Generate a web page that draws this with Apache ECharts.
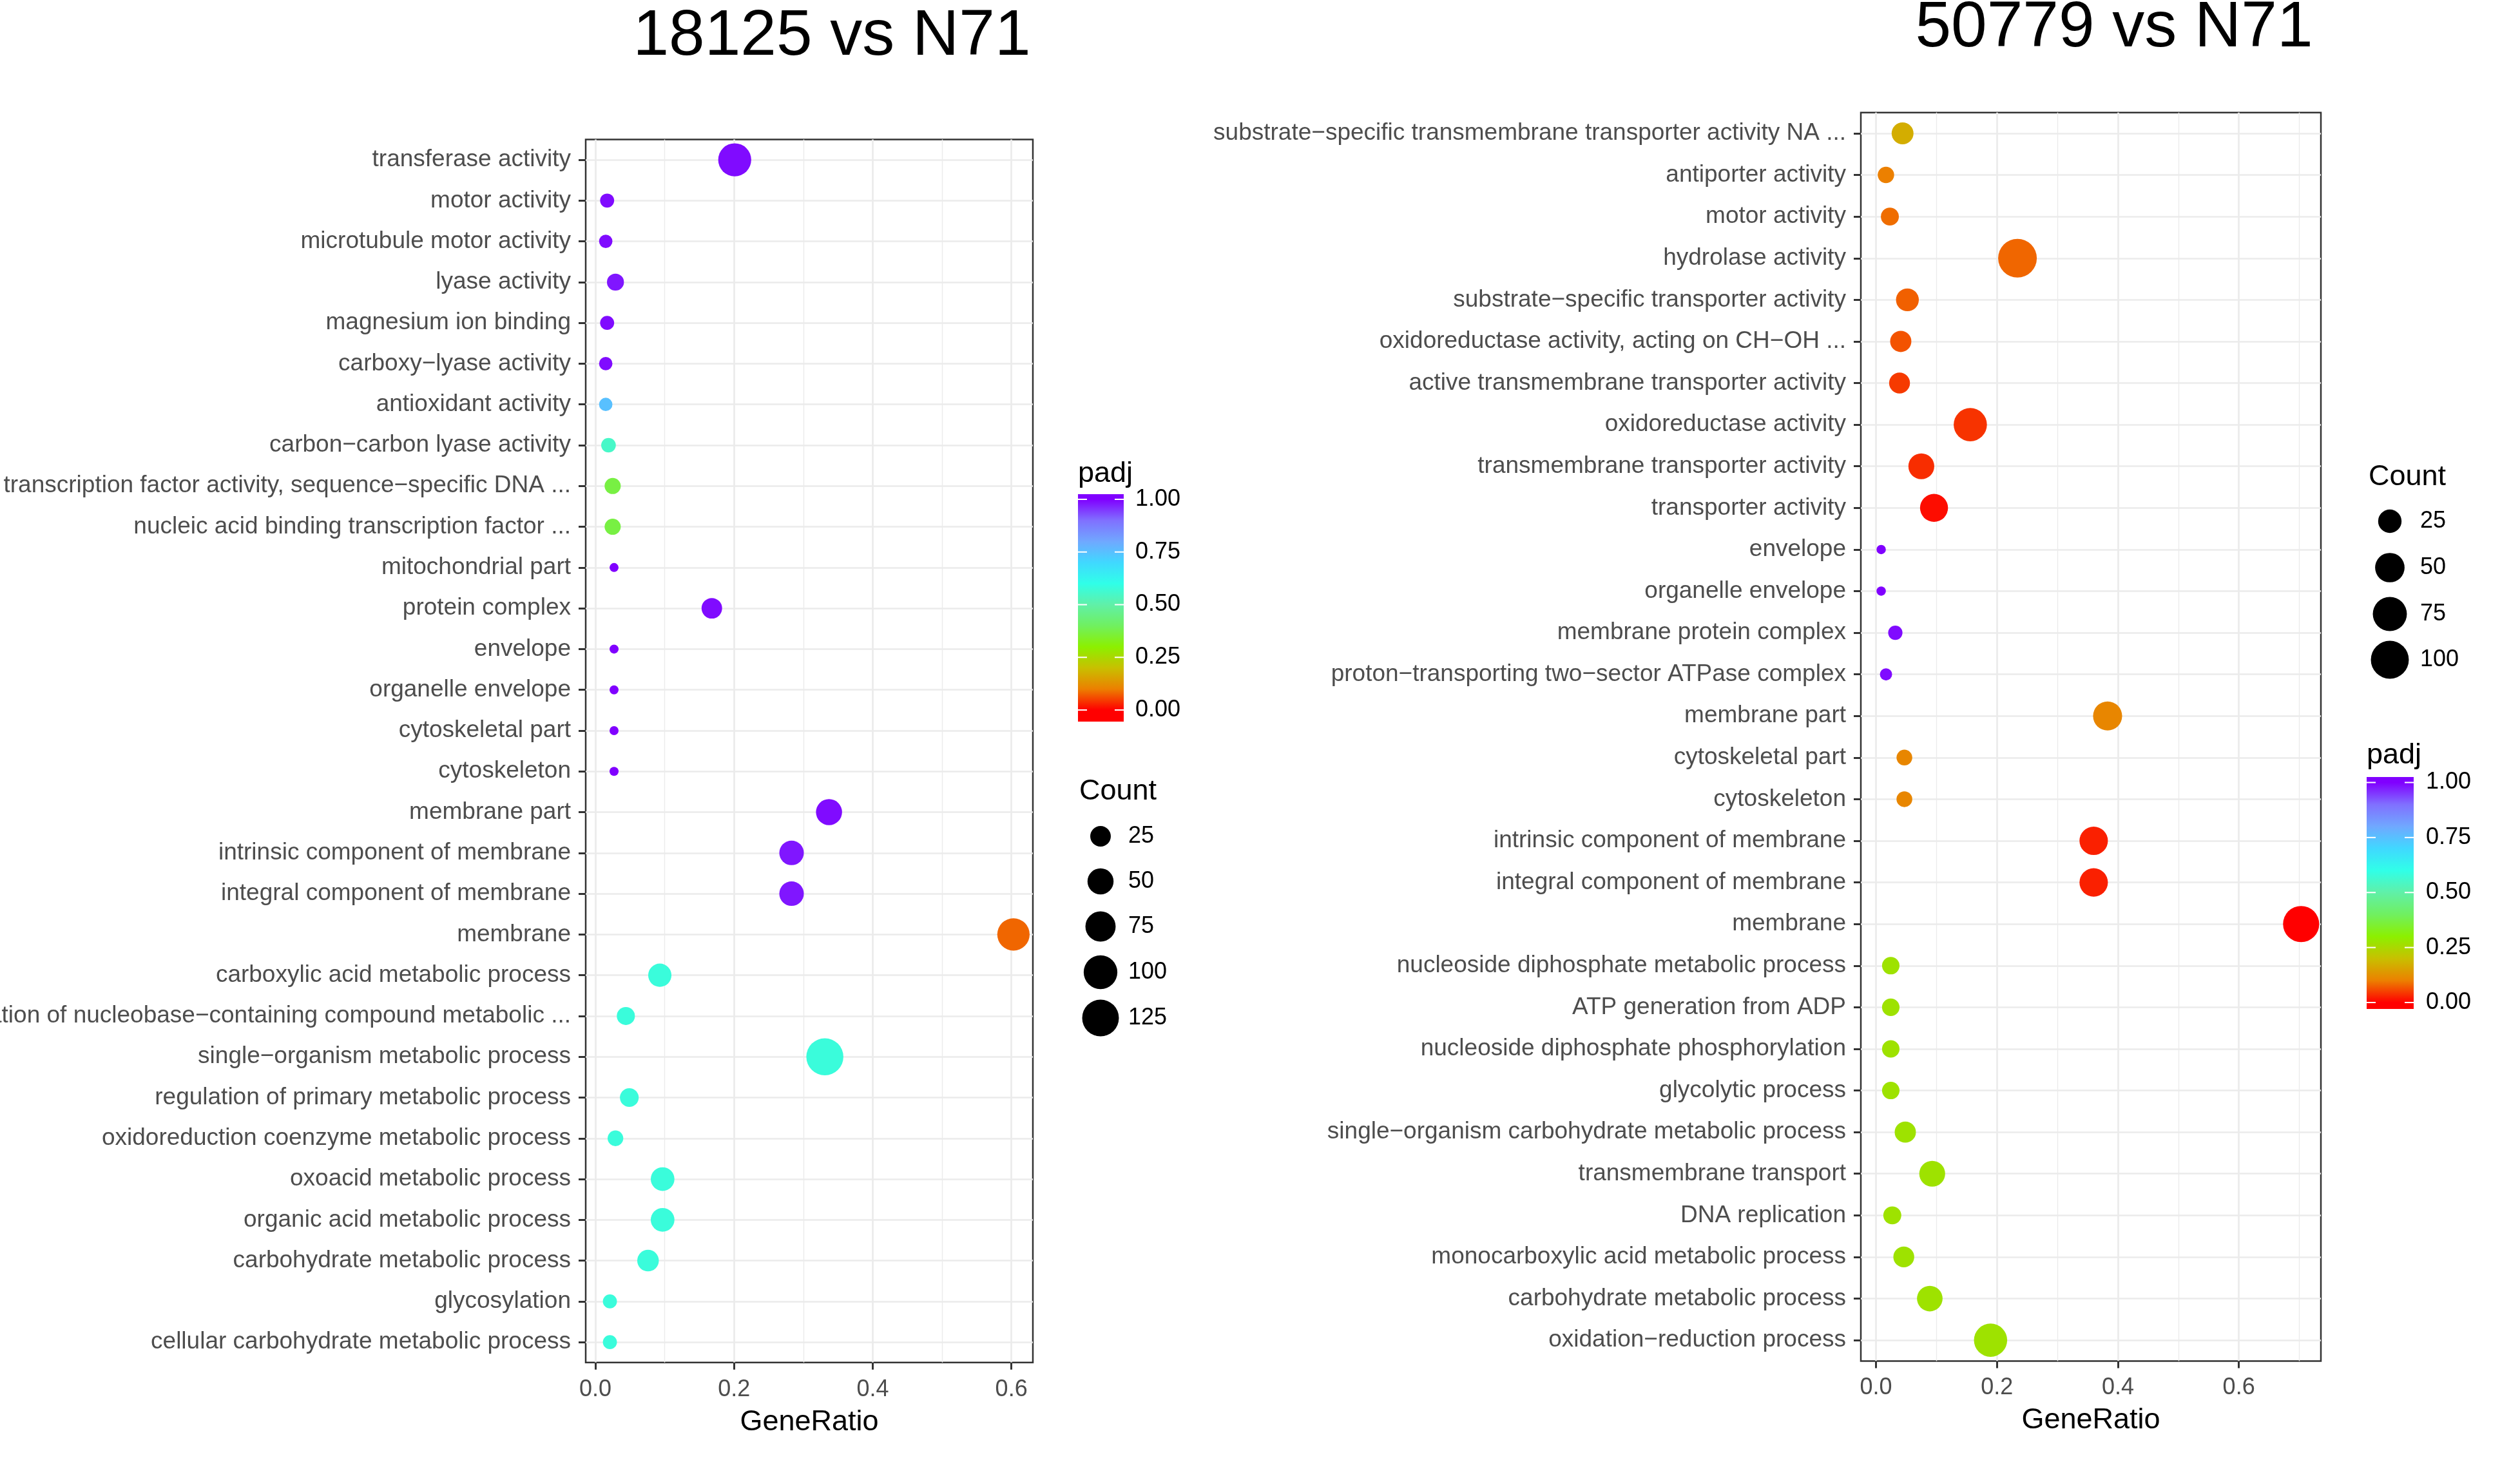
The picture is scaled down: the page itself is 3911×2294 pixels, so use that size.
<!DOCTYPE html>
<html>
<head>
<meta charset="utf-8">
<script src="https://cdn.jsdelivr.net/npm/echarts@6/dist/echarts.min.js"></script>
<style>
html, body { margin: 0; padding: 0; background: #fff; }
#main { width: 3911px; height: 2294px; }
</style>
</head>
<body>
<div id="main"></div>
<script>
// 18125 vs N71 (top to bottom)
var leftTerms = [
  'transferase activity', 'motor activity', 'microtubule motor activity', 'lyase activity',
  'magnesium ion binding', 'carboxy\u2212lyase activity', 'antioxidant activity',
  'carbon\u2212carbon lyase activity', 'transcription factor activity, sequence\u2212specific DNA ...',
  'nucleic acid binding transcription factor ...', 'mitochondrial part', 'protein complex',
  'envelope', 'organelle envelope', 'cytoskeletal part', 'cytoskeleton', 'membrane part',
  'intrinsic component of membrane', 'integral component of membrane', 'membrane',
  'carboxylic acid metabolic process', 'regulation of nucleobase\u2212containing compound metabolic ...',
  'single\u2212organism metabolic process', 'regulation of primary metabolic process',
  'oxidoreduction coenzyme metabolic process', 'oxoacid metabolic process',
  'organic acid metabolic process', 'carbohydrate metabolic process', 'glycosylation',
  'cellular carbohydrate metabolic process'
];
var leftRatio = [0.201, 0.017, 0.015, 0.029, 0.017, 0.015, 0.015, 0.019, 0.025, 0.025,
  0.027, 0.168, 0.027, 0.027, 0.027, 0.027, 0.337, 0.283, 0.283, 0.603,
  0.093, 0.044, 0.331, 0.049, 0.029, 0.097, 0.097, 0.076, 0.021, 0.021];
var leftCount = [95, 8, 7, 14, 8, 7, 7, 9, 12, 12,
  4, 25, 4, 4, 4, 4, 50, 42, 42, 90,
  36, 17, 128, 19, 11, 38, 38, 29, 8, 8];
var leftPadj = [0.99, 0.99, 0.99, 0.98, 0.99, 0.99, 0.75, 0.55, 0.37, 0.37,
  1.0, 0.99, 1.0, 1.0, 1.0, 1.0, 0.99, 0.98, 0.98, 0.08,
  0.58, 0.58, 0.58, 0.58, 0.58, 0.58, 0.58, 0.58, 0.58, 0.58];

// 50779 vs N71 (top to bottom)
var rightTerms = [
  'substrate\u2212specific transmembrane transporter activity NA ...', 'antiporter activity',
  'motor activity', 'hydrolase activity', 'substrate\u2212specific transporter activity',
  'oxidoreductase activity, acting on CH\u2212OH ...', 'active transmembrane transporter activity',
  'oxidoreductase activity', 'transmembrane transporter activity', 'transporter activity',
  'envelope', 'organelle envelope', 'membrane protein complex',
  'proton\u2212transporting two\u2212sector ATPase complex', 'membrane part', 'cytoskeletal part',
  'cytoskeleton', 'intrinsic component of membrane', 'integral component of membrane', 'membrane',
  'nucleoside diphosphate metabolic process', 'ATP generation from ADP',
  'nucleoside diphosphate phosphorylation', 'glycolytic process',
  'single\u2212organism carbohydrate metabolic process', 'transmembrane transport', 'DNA replication',
  'monocarboxylic acid metabolic process', 'carbohydrate metabolic process',
  'oxidation\u2212reduction process'
];
var rightRatio = [0.044, 0.0165, 0.023, 0.234, 0.052, 0.041, 0.039, 0.156, 0.075, 0.096,
  0.0086, 0.0086, 0.032, 0.0166, 0.383, 0.047, 0.047, 0.36, 0.36, 0.703,
  0.0245, 0.0245, 0.0245, 0.0245, 0.0485, 0.093, 0.027, 0.046, 0.089, 0.1895];
var rightCount = [20, 7, 10, 105, 23, 18, 17, 70, 34, 43,
  1, 1, 4, 2, 48, 6, 6, 45, 45, 88,
  9, 9, 9, 9, 18, 34, 10, 17, 33, 70];
var rightPadj = [0.17, 0.1, 0.085, 0.08, 0.075, 0.065, 0.045, 0.04, 0.035, 0.01,
  1.0, 1.0, 0.99, 0.99, 0.11, 0.11, 0.11, 0.025, 0.025, 0.0,
  0.27, 0.27, 0.27, 0.27, 0.27, 0.27, 0.27, 0.27, 0.27, 0.27];

// padj colour ramp, evenly spaced from 0 to 1
var padjColors = ['#FF0000', '#EC8000', '#C8C000', '#8CF000', '#70F060', '#60F0A8',
  '#30FFE8', '#40D8FF', '#70A8FF', '#8070FF', '#8000FF'];
var padjBreaks = [0, 0.25, 0.5, 0.75, 1];
var leftCountBreaks = [25, 50, 75, 100, 125];
var rightCountBreaks = [25, 50, 75, 100];
var majorTicks = [0, 0.2, 0.4, 0.6];
var leftMinorTicks = [0.1, 0.3, 0.5];
var rightMinorTicks = [0.1, 0.3, 0.5, 0.7];

var FONT = 'Liberation Sans';
var myChart = echarts.init(document.getElementById('main'));

// ggplot-like area scale: diameter grows with sqrt of rescaled count
function sizeScale(counts, dMin, dMax) {
  var lo = Math.min.apply(null, counts), hi = Math.max.apply(null, counts);
  return function (c) {
    return dMin + (dMax - dMin) * Math.sqrt(Math.max(c - lo, 0) / (hi - lo));
  };
}
var leftSize = sizeScale(leftCount, 14, 57.5);
var rightSize = sizeScale(rightCount, 14.5, 60);

function xAxes(grid, min, max, minor) {
  return [{
    gridIndex: grid, type: 'value', min: min, max: max, splitNumber: 4,
    axisLine: { show: false, onZero: false },
    axisTick: { show: true, length: 11, customValues: majorTicks, lineStyle: { color: '#333333', width: 3 } },
    axisLabel: {
      customValues: majorTicks, fontSize: 36, fontFamily: FONT, color: '#4D4D4D', margin: 24,
      formatter: function (v) { return v.toFixed(1); }
    },
    splitLine: { show: true, lineStyle: { color: '#EBEBEB', width: 2.7 } },
    name: 'GeneRatio', nameLocation: 'middle', nameGap: 70,
    nameTextStyle: { fontSize: 45, fontFamily: FONT, color: '#000000' }
  }, {
    gridIndex: grid, type: 'value', min: min, max: max, splitNumber: 7,
    axisLine: { show: false, onZero: false },
    axisTick: { show: false, customValues: minor },
    axisLabel: { show: false, customValues: minor },
    splitLine: { show: true, lineStyle: { color: '#EBEBEB', width: 1.4 } }
  }];
}

function yAxis(grid, terms) {
  return {
    gridIndex: grid, type: 'category', data: terms, inverse: true, boundaryGap: true,
    axisLine: { show: false, onZero: false },
    axisTick: { show: true, alignWithLabel: true, interval: 0, length: 11, lineStyle: { color: '#333333', width: 3 } },
    axisLabel: { interval: 0, fontSize: 37, fontFamily: FONT, color: '#4D4D4D', margin: 23 },
    splitLine: { show: true, alignWithLabel: true, interval: 0, lineStyle: { color: '#EBEBEB', width: 2.7 } }
  };
}

function points(terms, ratio, count, padj) {
  return terms.map(function (t, i) { return [ratio[i], t, count[i], padj[i]]; });
}

// legends drawn as plain graphics
function colorbar(x, top, bottom, w, y0, y1, labelX, titleY) {
  var last = padjColors.length - 1;
  var stops = [{ offset: 0, color: padjColors[0] }];
  padjColors.forEach(function (c, i) {
    var y = y0 + (i / last) * (y1 - y0);
    stops.push({ offset: (bottom - y) / (bottom - top), color: c });
  });
  stops.push({ offset: 1, color: padjColors[last] });
  var els = [{
    type: 'text', x: x, y: titleY,
    style: { text: 'padj', font: '45px "' + FONT + '"', fill: '#000', textAlign: 'left', textVerticalAlign: 'middle' }
  }, {
    type: 'rect', shape: { x: x, y: top, width: w, height: bottom - top },
    style: { fill: new echarts.graphic.LinearGradient(0, 1, 0, 0, stops) }
  }];
  padjBreaks.forEach(function (v) {
    var y = y0 + v * (y1 - y0);
    els.push({ type: 'line', shape: { x1: x, y1: y, x2: x + 14, y2: y }, style: { stroke: '#fff', lineWidth: 2 } });
    els.push({ type: 'line', shape: { x1: x + w - 14, y1: y, x2: x + w, y2: y }, style: { stroke: '#fff', lineWidth: 2 } });
    els.push({
      type: 'text', x: labelX, y: y,
      style: { text: v.toFixed(2), font: '36px "' + FONT + '"', fill: '#000', textAlign: 'left', textVerticalAlign: 'middle' }
    });
  });
  return els;
}

function sizeLegend(breaks, size, titleX, titleY, cx, ys, labelX) {
  var els = [{
    type: 'text', x: titleX, y: titleY,
    style: { text: 'Count', font: '45px "' + FONT + '"', fill: '#000', textAlign: 'left', textVerticalAlign: 'middle' }
  }];
  breaks.forEach(function (b, i) {
    els.push({ type: 'circle', shape: { cx: cx, cy: ys[i], r: size(b) / 2 }, style: { fill: '#000' } });
    els.push({
      type: 'text', x: labelX, y: ys[i],
      style: { text: String(b), font: '36px "' + FONT + '"', fill: '#000', textAlign: 'left', textVerticalAlign: 'middle' }
    });
  });
  return els;
}

var titles = [
  { type: 'text', x: 1291, y: 57, style: { text: '18125 vs N71', font: '100px "' + FONT + '"', fill: '#000', textAlign: 'center', textVerticalAlign: 'middle' } },
  { type: 'text', x: 3281, y: 44, style: { text: '50779 vs N71', font: '100px "' + FONT + '"', fill: '#000', textAlign: 'center', textVerticalAlign: 'middle' } }
];

var option = {
  animation: false,
  backgroundColor: '#ffffff',
  textStyle: { fontFamily: FONT },
  grid: [
    { left: 909, top: 216.4, width: 694, height: 1898.4, show: true, borderColor: '#333333', borderWidth: 2.5,
      backgroundColor: 'transparent', containLabel: false, outerBoundsMode: 'none' },
    { left: 2888, top: 174.7, width: 714, height: 1937.7, show: true, borderColor: '#333333', borderWidth: 2.5,
      backgroundColor: 'transparent', containLabel: false, outerBoundsMode: 'none' }
  ],
  xAxis: xAxes(0, -0.0139, 0.631, leftMinorTicks).concat(xAxes(1, -0.025, 0.7357, rightMinorTicks)),
  yAxis: [yAxis(0, leftTerms), yAxis(1, rightTerms)],
  visualMap: {
    type: 'continuous', show: false, min: 0, max: 1, dimension: 3, seriesIndex: [0, 1],
    inRange: { color: padjColors }
  },
  series: [{
    type: 'scatter', xAxisIndex: 0, yAxisIndex: 0,
    data: points(leftTerms, leftRatio, leftCount, leftPadj),
    symbol: 'circle',
    symbolSize: function (v) { return leftSize(v[2]); },
    itemStyle: { opacity: 1 }
  }, {
    type: 'scatter', xAxisIndex: 2, yAxisIndex: 1,
    data: points(rightTerms, rightRatio, rightCount, rightPadj),
    symbol: 'circle',
    symbolSize: function (v) { return rightSize(v[2]); },
    itemStyle: { opacity: 1 }
  }],
  graphic: titles
    .concat(colorbar(1673, 767, 1120, 71, 1102, 775, 1762, 736))
    .concat(sizeLegend(leftCountBreaks, leftSize, 1675, 1229, 1708, [1298, 1368, 1438, 1509, 1580], 1751))
    .concat(sizeLegend(rightCountBreaks, rightSize, 3676, 741, 3709, [809, 881, 953, 1024], 3756))
    .concat(colorbar(3673, 1206, 1566, 73, 1556, 1214.5, 3765, 1173))
};
myChart.setOption(option);
</script>
</body>
</html>
